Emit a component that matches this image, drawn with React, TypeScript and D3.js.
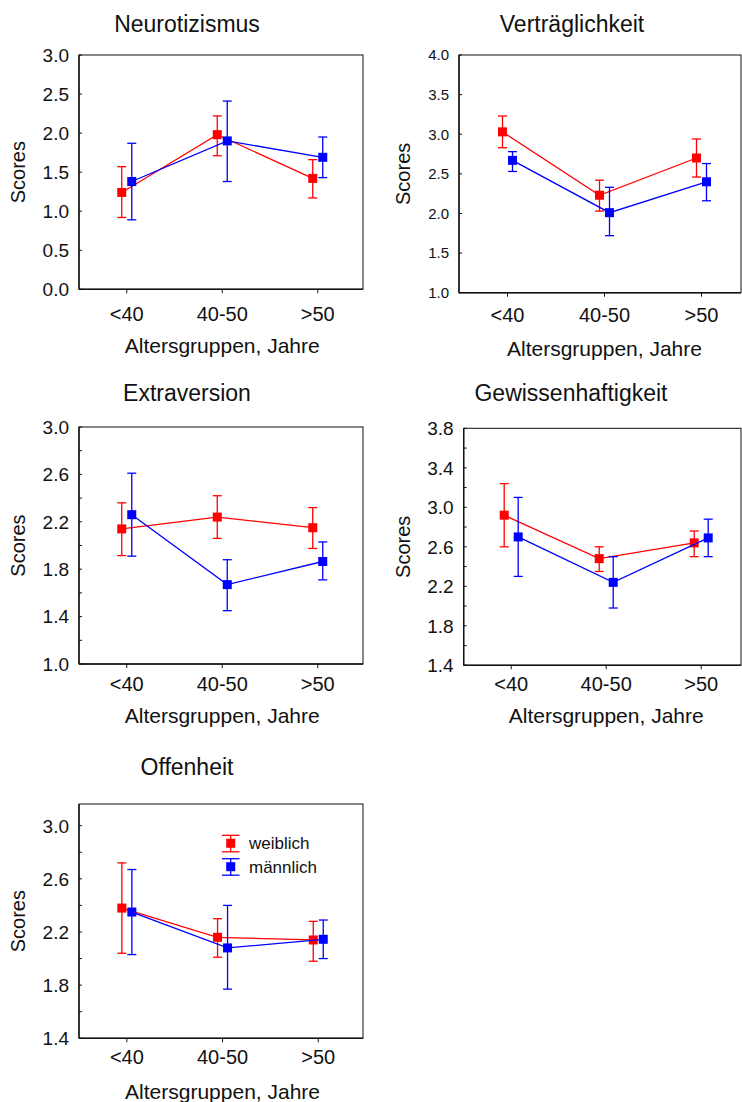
import * as d3 from 'd3';
import React from 'react';

const groups = ['<40', '40-50', '>50'];
const xTitle = 'Altersgruppen, Jahre';
const yTitle = 'Scores';
const seriesNames = ['weiblich', 'männlich'];
const seriesColors = ['#ff0000', '#0000ff'];

// each point: [mean, lower, upper]
const neuroW = [[1.24, 0.92, 1.57], [1.98, 1.71, 2.22], [1.42, 1.17, 1.66]];
const neuroM = [[1.38, 0.89, 1.87], [1.9, 1.38, 2.41], [1.69, 1.43, 1.95]];
const vertW = [[3.03, 2.83, 3.23], [2.23, 2.03, 2.42], [2.7, 2.46, 2.94]];
const vertM = [[2.67, 2.53, 2.78], [2.01, 1.72, 2.33], [2.4, 2.16, 2.63]];
const extraW = [[2.14, 1.915, 2.36], [2.24, 2.06, 2.42], [2.15, 1.975, 2.32]];
const extraM = [[2.26, 1.91, 2.61], [1.67, 1.45, 1.88], [1.865, 1.71, 2.03]];
const gewW = [[2.92, 2.6, 3.24], [2.48, 2.35, 2.6], [2.64, 2.5, 2.76]];
const gewM = [[2.7, 2.3, 3.1], [2.24, 1.98, 2.5], [2.69, 2.5, 2.88]];
const offW = [[2.38, 2.04, 2.72], [2.16, 2.01, 2.3], [2.14, 1.98, 2.28]];
const offM = [[2.35, 2.03, 2.67], [2.08, 1.77, 2.4], [2.145, 2.0, 2.29]];

const neuroTicks = [0, 0.5, 1, 1.5, 2, 2.5, 3];
const vertTicks = [1, 1.5, 2, 2.5, 3, 3.5, 4];
const extraTicks = [1, 1.4, 1.8, 2.2, 2.6, 3];
const gewTicks = [1.4, 1.8, 2.2, 2.6, 3, 3.4, 3.8];
const offTicks = [1.4, 1.8, 2.2, 2.6, 3];

const font = '"Liberation Sans", Arial, sans-serif';

const panels = [
  { title: 'Neurotizismus', w: neuroW, m: neuroM, domain: [0, 3], ticks: neuroTicks, minor: 0.5,
    left: 79, top: 55, bottom: 289.3, right: 363, step: 95.5, off: 5, tickSize: 19,
    titleX: 187, titleY: 32, tickDy: 24, labelDy: 56, scoresX: 18 },
  { title: 'Verträglichkeit', w: vertW, m: vertM, domain: [1, 4], ticks: vertTicks, minor: 0.5,
    left: 459, top: 55, bottom: 292.7, right: 741, step: 97, off: 5, tickSize: 15,
    titleX: 572, titleY: 32, tickDy: 22.5, labelDy: 56, scoresX: 403 },
  { title: 'Extraversion', w: extraW, m: extraM, domain: [1, 3], ticks: extraTicks, minor: 0.2,
    left: 79, top: 427, bottom: 664, right: 363, step: 95.5, off: 5, tickSize: 19,
    titleX: 187, titleY: 401, tickDy: 19.5, labelDy: 51, scoresX: 18 },
  { title: 'Gewissenhaftigkeit', w: gewW, m: gewM, domain: [1.4, 3.8], ticks: gewTicks, minor: 0.2,
    left: 463.7, top: 428.3, bottom: 665.3, right: 741, step: 95, off: 7, tickSize: 19,
    titleX: 571, titleY: 401, tickDy: 18.5, labelDy: 50, scoresX: 403 },
  { title: 'Offenheit', w: offW, m: offM, domain: [1.4, 3.163], ticks: offTicks, minor: 0.2,
    left: 79, top: 804, bottom: 1038.3, right: 363, step: 95.7, off: 5, tickSize: 19,
    titleX: 187, titleY: 775, tickDy: 18.5, labelDy: 53.5, scoresX: 18, legend: true },
];

function Panel({ p }: { p: any }) {
  const y = d3.scaleLinear().domain(p.domain).range([p.bottom, p.top]);
  const x = d3.scaleLinear().domain([-0.5, 2.5]).range([p.left, p.left + 3 * p.step]);
  const fmt = d3.format('.1f');
  const minorTicks = d3.range(p.domain[0], p.domain[1] + 1e-6, p.minor);
  const line = d3.line<number[]>().x((d, i) => x(i)).y(d => y(d[0]));
  const series = [p.w, p.m];
  const plotCx = x(1);
  const ms = 9;
  return (
    <g>
      <text x={p.titleX} y={p.titleY} textAnchor="middle" fontSize={23} fill="#111">{p.title}</text>
      <rect x={p.left} y={p.top} width={p.right - p.left} height={p.bottom - p.top} fill="none" stroke="#111" strokeWidth={1} />
      <line x1={p.left} x2={p.left} y1={p.top} y2={p.bottom} stroke="#111" strokeWidth={1.4} />
      <line x1={p.left} x2={p.right} y1={p.bottom} y2={p.bottom} stroke="#111" strokeWidth={1.4} />
      {minorTicks.map((t: number, i: number) => (
        <line key={'mt' + i} x1={p.left} x2={p.left + 3} y1={y(t)} y2={y(t)} stroke="#111" strokeWidth={1} />
      ))}
      {p.ticks.map((t: number) => (
        <text key={'yt' + t} x={p.left - 10} y={y(t)} dy="0.36em" textAnchor="end" fontSize={p.tickSize} fill="#111">{fmt(t)}</text>
      ))}
      {groups.map((g, i) => (
        <g key={g}>
          <line x1={x(i)} x2={x(i)} y1={p.bottom} y2={p.bottom + 4} stroke="#111" strokeWidth={1} />
          <text x={x(i)} y={p.bottom + p.tickDy} dy="0.36em" textAnchor="middle" fontSize={20} fill="#111">{g}</text>
        </g>
      ))}
      <text x={plotCx} y={p.bottom + p.labelDy} dy="0.36em" textAnchor="middle" fontSize={21} fill="#111">{xTitle}</text>
      <text transform={`translate(${p.scoresX},${(p.top + p.bottom) / 2}) rotate(-90)`} dy="0.36em" textAnchor="middle" fontSize={20} fill="#111">{yTitle}</text>
      {series.map((s: number[][], si: number) => {
        const dx = si === 0 ? -p.off : p.off;
        const col = seriesColors[si];
        return (
          <g key={'s' + si} transform={`translate(${dx},0)`}>
            <path d={line(s) || ''} fill="none" stroke={col} strokeWidth={1.3} />
            {s.map((d, i) => (
              <g key={i}>
                <line x1={x(i)} x2={x(i)} y1={y(d[1])} y2={y(d[2])} stroke={col} strokeWidth={1.3} />
                <line x1={x(i) - 4.5} x2={x(i) + 4.5} y1={y(d[1])} y2={y(d[1])} stroke={col} strokeWidth={1.3} />
                <line x1={x(i) - 4.5} x2={x(i) + 4.5} y1={y(d[2])} y2={y(d[2])} stroke={col} strokeWidth={1.3} />
                <rect x={x(i) - ms / 2} y={y(d[0]) - ms / 2} width={ms} height={ms} fill={col} />
              </g>
            ))}
          </g>
        );
      })}
      {p.legend && seriesNames.map((n, i) => {
        const ly = 843.3 + i * 23.4;
        const col = seriesColors[i];
        return (
          <g key={n}>
            <line x1={230.7} x2={230.7} y1={ly - 8} y2={ly + 8.5} stroke={col} strokeWidth={1.3} />
            <line x1={222} x2={239.5} y1={ly - 8} y2={ly - 8} stroke={col} strokeWidth={1.3} />
            <line x1={222} x2={239.5} y1={ly + 8.5} y2={ly + 8.5} stroke={col} strokeWidth={1.3} />
            <rect x={226.2} y={ly - 4.5} width={ms} height={ms} fill={col} />
            <text x={249} y={ly} dy="0.36em" fontSize={17} fill="#111">{n}</text>
          </g>
        );
      })}
    </g>
  );
}

export default function App() {
  return (
    <svg width={742} height={1102} style={{ position: 'absolute', left: 0, top: 0, background: '#fff' }} fontFamily={font}>
      <rect width={742} height={1102} fill="#fff" />
      {panels.map(p => <Panel key={p.title} p={p} />)}
    </svg>
  );
}
